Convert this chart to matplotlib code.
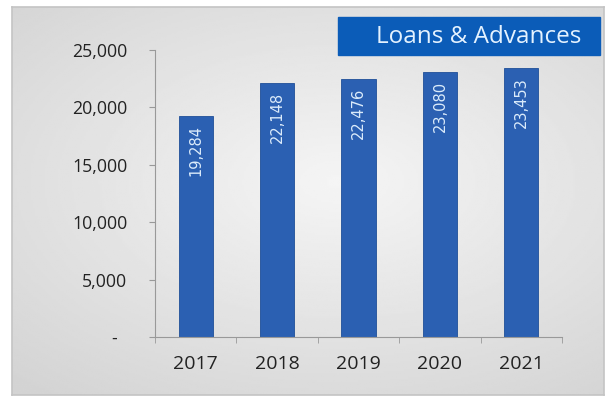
import numpy as np
import matplotlib.pyplot as plt
from matplotlib.patches import Rectangle

years = ['2017', '2018', '2019', '2020', '2021']
loans = [19284, 22148, 22476, 23080, 23453]
yticks = [0, 5000, 10000, 15000, 20000, 25000]
ytick_labels = ['-  ', '5,000', '10,000', '15,000', '20,000', '25,000']

fig = plt.figure(figsize=(6.06, 3.98), dpi=100)
fig.patch.set_facecolor('white')

# grey panel with a soft radial fade behind the chart
bg = fig.add_axes([12/606, 3/398, 592/606, 388/398])
yy, xx = np.mgrid[0:1:200j, 0:1:300j]
r = np.sqrt(((xx - 0.55) / 0.8) ** 2 + ((yy - 0.45) / 0.7) ** 2)
shade = np.clip(0.96 - 0.13 * r, 0.83, 0.96)
bg.imshow(shade, cmap='gray', vmin=0, vmax=1, aspect='auto', extent=[0, 1, 0, 1])
bg.set_xlim(0, 1)
bg.set_ylim(0, 1)
for s in bg.spines.values():
    s.set_color('#c4c4c4')
    s.set_linewidth(1.2)
bg.set_xticks([])
bg.set_yticks([])

# title box
bg.add_patch(Rectangle((326/592, 1 - 48/388), 262/592, 38/388,
                       transform=bg.transAxes, color='#0b5cb8', zorder=3))
bg.text(467/592, 1 - 30/388, 'Loans & Advances', transform=bg.transAxes,
        ha='center', va='center', color='#e4f2ff', fontsize=17.5,
        family='Open Sans', zorder=4)

ax = fig.add_axes([155/606, 1 - 337/398, 407/606, 287/398])
ax.set_facecolor('none')
x = np.arange(len(years))
ax.bar(x, loans, width=0.42, color='#2b60b2', edgecolor='#1f4f98', linewidth=0.6)

for xi, v in zip(x, loans):
    ax.text(xi, v - 800, f'{v:,}', rotation=90, ha='center', va='top',
            color='#dcecfb', fontsize=10.5, family='Liberation Sans Narrow')

ax.set_xlim(-0.5, len(years) - 0.5)
ax.set_ylim(0, 25000)
ax.set_xticks(x)
ax.set_xticklabels(years, fontsize=14, color='#222222', family='Open Sans')
ax.set_xticks(np.arange(-0.5, len(years), 1), minor=True)
ax.tick_params(axis='x', which='major', length=0, pad=13)
ax.tick_params(axis='x', which='minor', length=4, color='#999999')
ax.set_yticks(yticks)
ax.set_yticklabels(ytick_labels, fontsize=12.8, color='#222222', family='Open Sans')
ax.tick_params(axis='y', length=4, color='#999999', pad=16)

for side in ['top', 'right']:
    ax.spines[side].set_visible(False)
for side in ['left', 'bottom']:
    ax.spines[side].set_color('#999999')

fig.savefig('out.png', dpi=100)
